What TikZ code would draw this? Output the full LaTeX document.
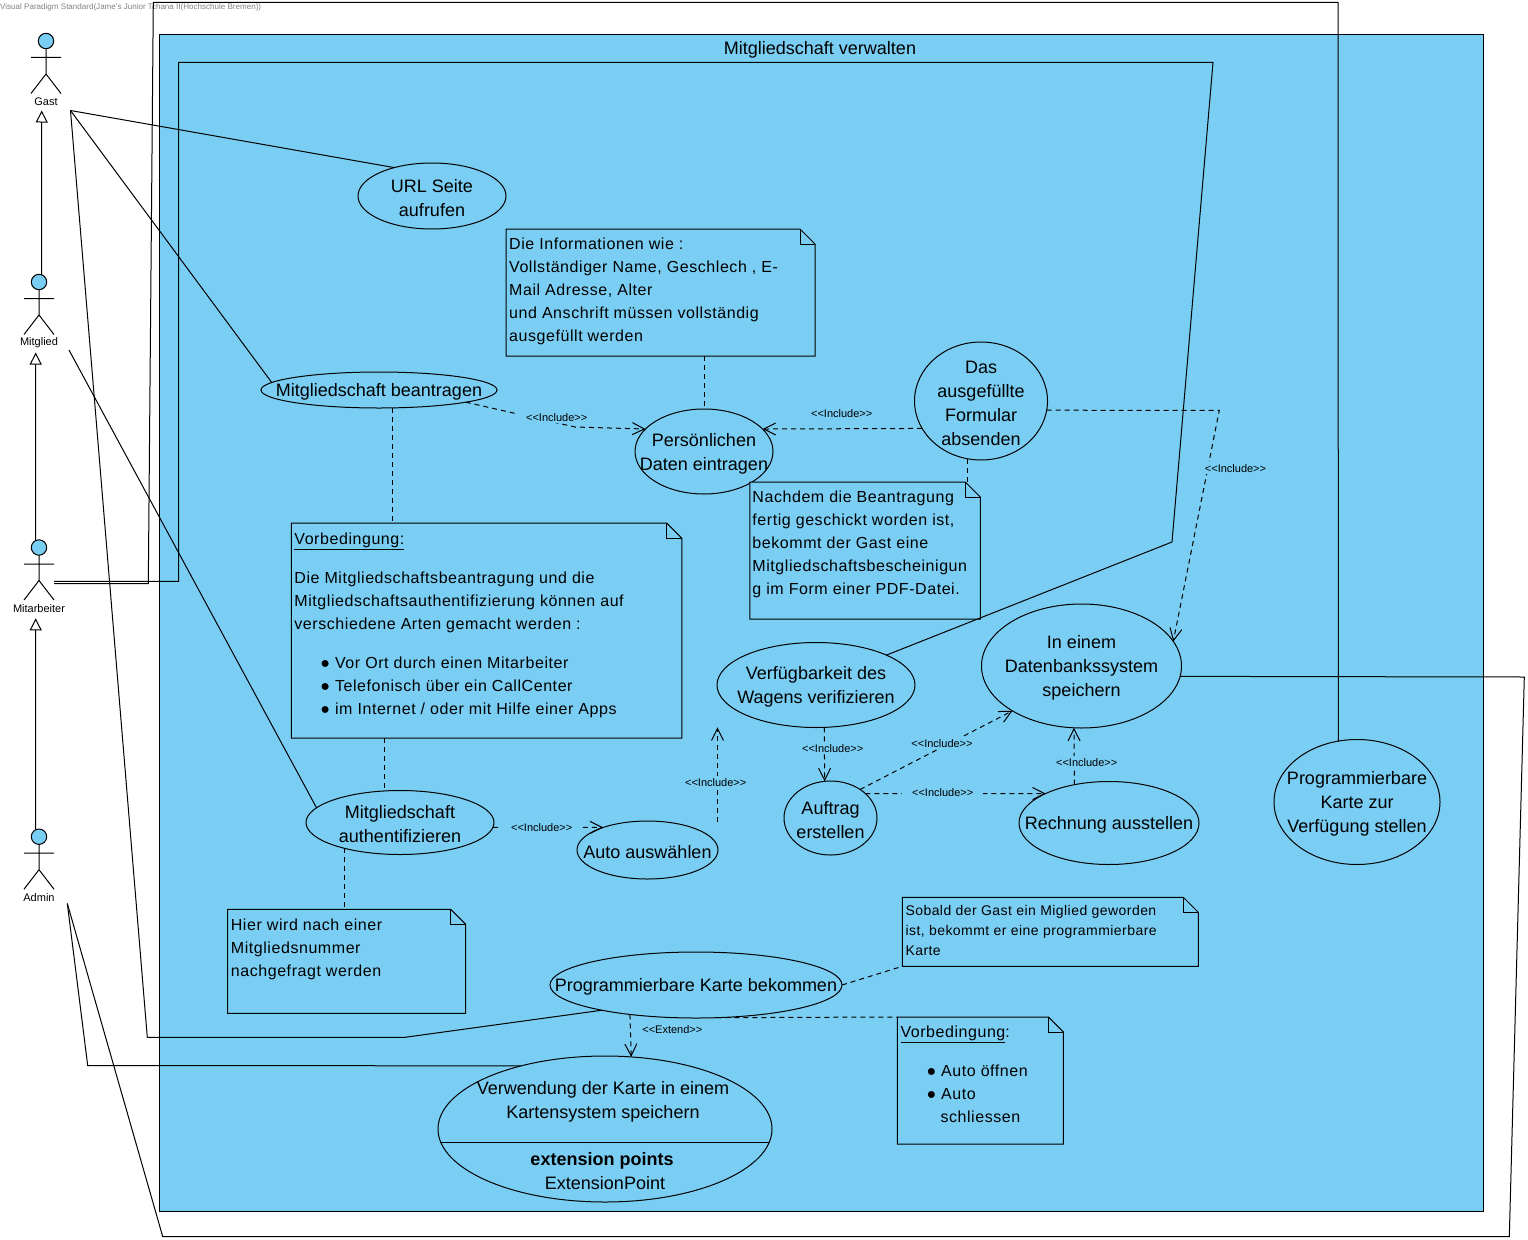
\documentclass[tikz,border=0pt]{standalone}
\usepackage{fontspec}
\setmainfont{Liberation Sans}
\usetikzlibrary{arrows.meta,calc,shapes.geometric}
\definecolor{sysblue}{RGB}{122,206,244}
\definecolor{markgray}{RGB}{130,130,130}
\newcommand{\stereo}[1]{<\kern0pt<#1>\kern0pt>}
\newcommand{\toppad}{\rule{0pt}{17pt}}
\tikzset{
  usecase/.style={
    ellipse,
    draw=black,
    fill=sysblue,
    line width=1pt,
    inner xsep=-70pt,
    inner ysep=-40pt,
    outer sep=0pt,
    align=center,
    font=\fontsize{18}{24}\selectfont
  },
  casetext/.style={
    align=center,
    inner sep=0pt,
    font=\fontsize{18}{24}\selectfont
  },
  notebody/.style={
    rectangle,
    inner sep=0pt,
    outer sep=0pt,
    append after command={\pgfextra{
      \let\thisnote\tikzlastnode
      \draw[black,fill=sysblue,line width=1pt]
        (\thisnote.north west) -- ($(\thisnote.north east)+(-15,0)$)
        -- ($(\thisnote.north east)+(0,15)$) -- (\thisnote.south east)
        -- (\thisnote.south west) -- cycle;
      \draw[black,line width=1pt]
        ($(\thisnote.north east)+(-15,0)$) -- ($(\thisnote.north east)+(-15,15)$)
        -- ($(\thisnote.north east)+(0,15)$);
    }}
  },
  notetext/.style={
    anchor=north west,
    align=left,
    inner sep=0pt,
    font=\fontsize{16}{23}\selectfont\addfontfeature{LetterSpace=3.5}
  },
  assocline/.style={
    draw=black,
    line width=1pt
  },
  noteline/.style={
    draw=black,
    line width=1pt,
    dash pattern=on 5pt off 4pt
  },
  includeline/.style={
    noteline,
    -{Straight Barb[length=12pt,width=12pt]}
  },
  genline/.style={
    draw=black,
    line width=1pt,
    -{Triangle[open,length=12pt,width=12pt]}
  },
  stereolabel/.style={
    fill=sysblue,
    inner xsep=10pt,
    inner ysep=2pt,
    font=\fontsize{11}{13}\selectfont
  },
  actorhead/.style={
    circle,
    draw=black,
    fill=sysblue,
    line width=1pt,
    inner sep=0pt,
    outer sep=0pt,
    minimum size=15.4pt
  },
  actorlabel/.style={
    inner sep=0pt,
    font=\fontsize{11}{13}\selectfont
  }
}

\begin{document}
\begin{tikzpicture}[x=1pt,y=-1pt]
  \useasboundingbox (0,0) rectangle (1528,1239);

  % System boundary and its title.
  \node[draw=black,fill=sysblue,line width=1pt,inner sep=0pt,
    minimum width=1323.5pt,minimum height=1176pt] (sysBox) at (821.25,623) {};
  \node[inner sep=0pt,font=\fontsize{18}{20}\selectfont] (sysTitle) at (820,49.5)
    {Mitgliedschaft verwalten};

  \node[anchor=west,inner sep=0pt,text=markgray,font=\fontsize{8.05}{10}\selectfont] (markLine) at (0,7)
    {Visual Paradigm Standard(Jame's Junior Tchana II(Hochschule Bremen))};

  % Actors: head, limbs and name.
  \foreach \aname/\ax/\ay in {Gast/46/41, Mitglied/39/282, Mitarbeiter/39/547.5, Admin/39/836.7}{
    \begin{scope}[shift={(\ax,\ay)}]
      \draw[line width=1pt] (0,7.7) -- (0,33) (-15,16.5) -- (15,16.5)
        (-15,52.5) -- (0,33) -- (15,52.5);
      \node[actorhead] (head\aname) at (0,0) {};
      \node[actorlabel] (act\aname) at (0,61) {\aname};
    \end{scope}
  }

  % Free ends of the actor connectors.
  \coordinate (gastPort) at (70.5,110.5);
  \coordinate (mitgliedPort) at (69,350);
  \coordinate (mitarbeiterPortA) at (54,581.3);
  \coordinate (mitarbeiterPortB) at (54,583.7);
  \coordinate (adminPort) at (67.3,903.5);
  \coordinate (gastTip) at (41.7,110.5);
  \coordinate (mitgliedTip) at (35.7,352.5);
  \coordinate (mitarbeiterTip) at (35.7,618.3);

  % Use cases.
  \node[usecase,minimum width=148pt,minimum height=66pt] (ucUrl) at (432,196)
    {\toppad URL Seite\\aufrufen};
  \node[usecase,minimum width=236pt,minimum height=36pt] (ucBeantragen) at (379,390)
    {\toppad Mitgliedschaft beantragen};
  \node[usecase,minimum width=138pt,minimum height=85pt] (ucDaten) at (704,451.5)
    {\toppad Persönlichen\\Daten eintragen};
  \node[usecase,minimum width=133pt,minimum height=118pt] (ucFormular) at (981,401)
    {\toppad Das\\ausgefüllte\\Formular\\absenden};
  \node[usecase,minimum width=200pt,minimum height=124pt] (ucSpeichern) at (1081.5,666)
    {\toppad In einem\\Datenbankssystem\\speichern};
  \node[usecase,minimum width=198pt,minimum height=85pt] (ucWagen) at (816,685)
    {\toppad Verfügbarkeit des\\Wagens verifizieren};
  \node[usecase,minimum width=93pt,minimum height=74pt] (ucAuftrag) at (830.5,818)
    {\toppad Auftrag\\erstellen};
  \node[usecase,minimum width=180pt,minimum height=83pt] (ucRechnung) at (1109,823)
    {\toppad Rechnung ausstellen};
  \node[usecase,minimum width=166pt,minimum height=125pt] (ucStellen) at (1357,802)
    {\toppad Programmierbare\\Karte zur\\Verfügung stellen};
  \node[usecase,minimum width=188pt,minimum height=64pt] (ucAuth) at (400,822.5)
    {\toppad Mitgliedschaft\\authentifizieren};
  \node[usecase,minimum width=141pt,minimum height=58pt] (ucAuto) at (647.5,850)
    {\toppad Auto auswählen};
  \node[usecase,minimum width=292pt,minimum height=66pt] (ucBekommen) at (696,985)
    {\toppad Programmierbare Karte bekommen};

  % Use case with its extension points compartment.
  \node[usecase,minimum width=334pt,minimum height=146pt] (ucKarte) at (605,1129) {};
  \coordinate (karteDiv) at (605,1142);
  \draw[line width=1pt] (karteDiv -| ucKarte.184.5) -- (karteDiv -| ucKarte.355.5);
  \node[casetext] (karteTitle) at (603,1102)
    {Verwendung der Karte in einem\\Kartensystem speichern};
  \node[casetext,font=\fontsize{18}{24}\selectfont\bfseries] (kartePoints) at (602,1161)
    {extension points};
  \node[casetext] (kartePoint) at (605,1183) {ExtensionPoint};

  % Notes.
  \node[notebody,minimum width=309pt,minimum height=127pt] (noteInfo) at (660.5,292.5) {};
  \node[notetext] (noteInfoText) at ($(noteInfo.north west)+(3,9)$)
    {Die Informationen wie :\\Vollständiger Name, Geschlech , E-\\Mail Adresse, Alter\\und Anschrift müssen vollständig\\ausgefüllt werden};

  \node[notebody,minimum width=230.5pt,minimum height=137pt] (noteBeleg) at (865,550.5) {};
  \node[notetext] (noteBelegText) at ($(noteBeleg.north west)+(2.5,9)$)
    {Nachdem die Beantragung\\fertig geschickt worden ist,\\bekommt der Gast eine\\Mitgliedschaftsbescheinigun\\g im Form einer PDF-Datei.};

  \node[notebody,minimum width=390.5pt,minimum height=215pt] (noteArten) at (486.5,630.7) {};
  \node[notetext] (noteArtenText) at ($(noteArten.north west)+(3,9)$)
    {\underline{Vorbedingung:}\\[16pt]
     Die Mitgliedschaftsbeantragung und die\\Mitgliedschaftsauthentifizierung können auf\\verschiedene Arten gemacht werden :\\[16pt]
     \hspace*{26pt}● Vor Ort durch einen Mitarbeiter\\
     \hspace*{26pt}● Telefonisch über ein CallCenter\\
     \hspace*{26pt}● im Internet / oder mit Hilfe einer Apps};

  \node[notebody,minimum width=238pt,minimum height=104pt] (noteNummer) at (346.7,961.3) {};
  \node[notetext] (noteNummerText) at ($(noteNummer.north west)+(3,9)$)
    {Hier wird nach einer\\Mitgliedsnummer\\nachgefragt werden};

  \node[notebody,minimum width=296pt,minimum height=69pt] (noteSobald) at (1050.3,931.8) {};
  \node[notetext,font=\fontsize{14}{20}\selectfont\addfontfeature{LetterSpace=3.2}] (noteSobaldText)
    at ($(noteSobald.north west)+(3,8)$)
    {Sobald der Gast ein Miglied geworden\\ist, bekommt er eine programmierbare\\Karte};

  \node[notebody,minimum width=166pt,minimum height=127pt] (noteAuto) at (980.3,1080.5) {};
  \node[notetext] (noteAutoText) at ($(noteAuto.north west)+(3,9)$)
    {\underline{Vorbedingung}:\\[16pt]
     \hspace*{26pt}● Auto öffnen\\
     \hspace*{26pt}● Auto\\
     \hspace*{40pt}schliessen};

  % Generalizations between the actors.
  \draw[genline] (headMitglied.70) -- (gastTip);
  \draw[genline] (headMitarbeiter.115) -- (mitgliedTip);
  \draw[genline] (headAdmin.115) -- (mitarbeiterTip);

  % Associations.
  \draw[assocline] (gastPort) -- (ucUrl.143);
  \draw[assocline] (gastPort) -- (ucBeantragen.176);
  \draw[assocline] (gastPort) -- (147.3,1037.3) -- (405,1037.3) -- (ucBekommen.195);
  \draw[assocline] (mitgliedPort) -- (ucAuth.170);
  \draw[assocline] (mitarbeiterPortA) -- (178.5,581.3) -- (178.5,62.5) -- (1213,62.5)
    -- (1172,542) -- (ucWagen.23);
  \draw[assocline] (mitarbeiterPortB) -- (148.3,583.7) -- (153.3,2.5) -- (1338,2.5)
    -- (ucStellen.107);
  \draw[assocline] (adminPort) -- (87.7,1065.5) -- (ucKarte.143);
  \draw[assocline] (adminPort) -- (162.7,1236.5) -- (1509.3,1236.5) -- (1524.3,677)
    -- (ucSpeichern.354);

  % Note anchors.
  \draw[noteline] (noteInfo.south -| ucDaten.north) -- (ucDaten.north);
  \draw[noteline] (ucFormular.257) -- (ucFormular.257 |- noteBeleg.north);
  \draw[noteline] (ucBeantragen.307) -- (ucBeantragen.307 |- noteArten.north);
  \draw[noteline] (noteArten.south -| ucAuth.116.5) -- (ucAuth.116.5);
  \draw[noteline] (ucAuth.205.4) -- (ucAuth.205.4 |- noteNummer.north);
  \draw[noteline] (ucBekommen.east) -- (noteSobald.south west);
  \draw[noteline] (ucBekommen.302.5) -- (noteAuto.north west);

  % Include and extend dependencies.
  \coordinate (autoFoot) at (717.5,821.7);
  \coordinate (wagenFoot) at (717.5,727.3);
  \draw[includeline] (ucBeantragen.352) -- (575,427) -- (ucDaten.159);
  \draw[includeline] (ucFormular.205) -- (ucDaten.21.6);
  \draw[includeline] (ucFormular.352) -- (1219.3,410.3) -- (ucSpeichern.15);
  \draw[includeline] (ucAuth.357.6) -- (ucAuto.153.6);
  \draw[includeline] (autoFoot) -- (wagenFoot);
  \draw[includeline] (ucWagen.281) -- (ucAuftrag.99.6);
  \draw[includeline] (ucAuftrag.44.2) -- (ucSpeichern.213.7);
  \draw[includeline] (ucAuftrag.35.2) -- (ucRechnung.155.1);
  \draw[includeline] (ucRechnung.132.2) -- (ucSpeichern.263.4);
  \draw[includeline] (ucBekommen.204.2) -- (ucKarte.70.7);

  % Stereotype labels sit on the dependencies.
  \node[stereolabel] (inclDaten) at (556.7,417.3) {\stereo{Include}};
  \node[stereolabel] (inclFormular) at (841.7,413.3) {\stereo{Include}};
  \node[stereolabel] (inclSpeichern) at (1235.5,468.3) {\stereo{Include}};
  \node[stereolabel] (inclAuto) at (541.7,827.3) {\stereo{Include}};
  \node[stereolabel] (inclWagen) at (715.7,782.3) {\stereo{Include}};
  \node[stereolabel] (inclAuftrag) at (832.7,748.3) {\stereo{Include}};
  \node[stereolabel] (inclDiag) at (942,743.3) {\stereo{Include}};
  \node[stereolabel] (inclRechnung) at (942.7,792.3) {\stereo{Include}};
  \node[stereolabel] (inclDb) at (1086.7,762.3) {\stereo{Include}};
  \node[stereolabel,inner xsep=2pt] (extKarte) at (672.3,1030) {\stereo{Extend}};

\end{tikzpicture}
\end{document}
